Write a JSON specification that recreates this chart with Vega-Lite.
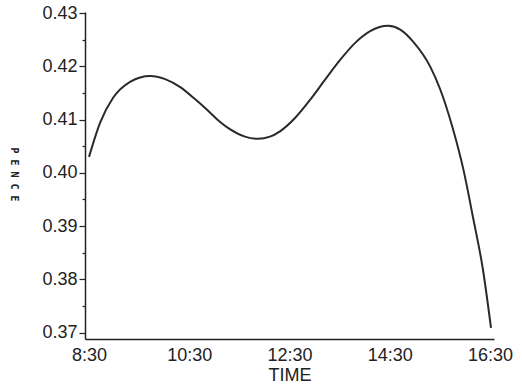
{
  "$schema": "https://vega.github.io/schema/vega-lite/v6.json",
  "width": 409,
  "height": 327,
  "autosize": {"type": "none"},
  "padding": {"left": 85, "top": 12, "right": 28, "bottom": 49},
  "background": "white",
  "config": {"view": {"stroke": null}},
  "data": {"values": [
    {"h": 8.5, "v": 0.4030},
    {"h": 8.72, "v": 0.4094},
    {"h": 8.98, "v": 0.4141},
    {"h": 9.32, "v": 0.4171},
    {"h": 9.72, "v": 0.4182},
    {"h": 10.02, "v": 0.4176},
    {"h": 10.32, "v": 0.4161},
    {"h": 10.62, "v": 0.4138},
    {"h": 10.86, "v": 0.4118},
    {"h": 11.11, "v": 0.4096},
    {"h": 11.31, "v": 0.4082},
    {"h": 11.61, "v": 0.4068},
    {"h": 11.87, "v": 0.4064},
    {"h": 12.11, "v": 0.4068},
    {"h": 12.31, "v": 0.4078},
    {"h": 12.61, "v": 0.4103},
    {"h": 12.91, "v": 0.4137},
    {"h": 13.21, "v": 0.4175},
    {"h": 13.51, "v": 0.4212},
    {"h": 13.81, "v": 0.4244},
    {"h": 14.11, "v": 0.4266},
    {"h": 14.47, "v": 0.4276},
    {"h": 14.71, "v": 0.4269},
    {"h": 14.97, "v": 0.4246},
    {"h": 15.31, "v": 0.4199},
    {"h": 15.51, "v": 0.4156},
    {"h": 15.75, "v": 0.4086},
    {"h": 15.97, "v": 0.4006},
    {"h": 16.16, "v": 0.3917},
    {"h": 16.36, "v": 0.3818},
    {"h": 16.52, "v": 0.3709}
  ]},
  "mark": {"type": "line", "interpolate": "monotone", "color": "#2a2a2a", "strokeWidth": 2},
  "encoding": {
    "x": {
      "field": "h", "type": "quantitative",
      "scale": {"domain": [8.42, 16.58], "nice": false, "zero": false},
      "axis": {
        "values": [8.5, 10.5, 12.5, 14.5, 16.5],
        "labelExpr": "floor(datum.value) + ':30'",
        "ticks": false, "grid": false,
        "domainColor": "#222", "domainWidth": 1.5,
        "labelFont": "Liberation Sans", "labelFontSize": 18, "labelColor": "#222",
        "labelPadding": 7, "labelFlush": false,
        "title": "TIME", "titleFont": "Liberation Sans", "titleFontSize": 18,
        "titleFontWeight": "normal", "titleColor": "#222", "titlePadding": 2
      }
    },
    "y": {
      "field": "v", "type": "quantitative",
      "scale": {"domain": [0.3688, 0.4302], "nice": false, "zero": false},
      "axis": {
        "values": [0.37, 0.375, 0.38, 0.385, 0.39, 0.395, 0.40, 0.405, 0.41, 0.415, 0.42, 0.425, 0.43],
        "labelExpr": "round(datum.value*1000) % 10 == 0 ? format(datum.value, '.2f') : ''",
        "tickSize": {"condition": {"test": "round(datum.value*1000) % 10 == 0", "value": 6}, "value": 3},
        "tickColor": "#222", "tickWidth": 1.2,
        "grid": false,
        "domainColor": "#222", "domainWidth": 1.5,
        "labelFont": "Liberation Sans", "labelFontSize": 18, "labelColor": "#222",
        "labelPadding": 2,
        "title": "P E N C E", "titleFont": "DejaVu Sans Mono", "titleFontSize": 10,
        "titleFontWeight": "bold", "titleColor": "#222", "titleAngle": 90,
        "titleAlign": "center", "titleBaseline": "middle",
        "titleX": -72, "titleY": 162
      }
    }
  }
}
